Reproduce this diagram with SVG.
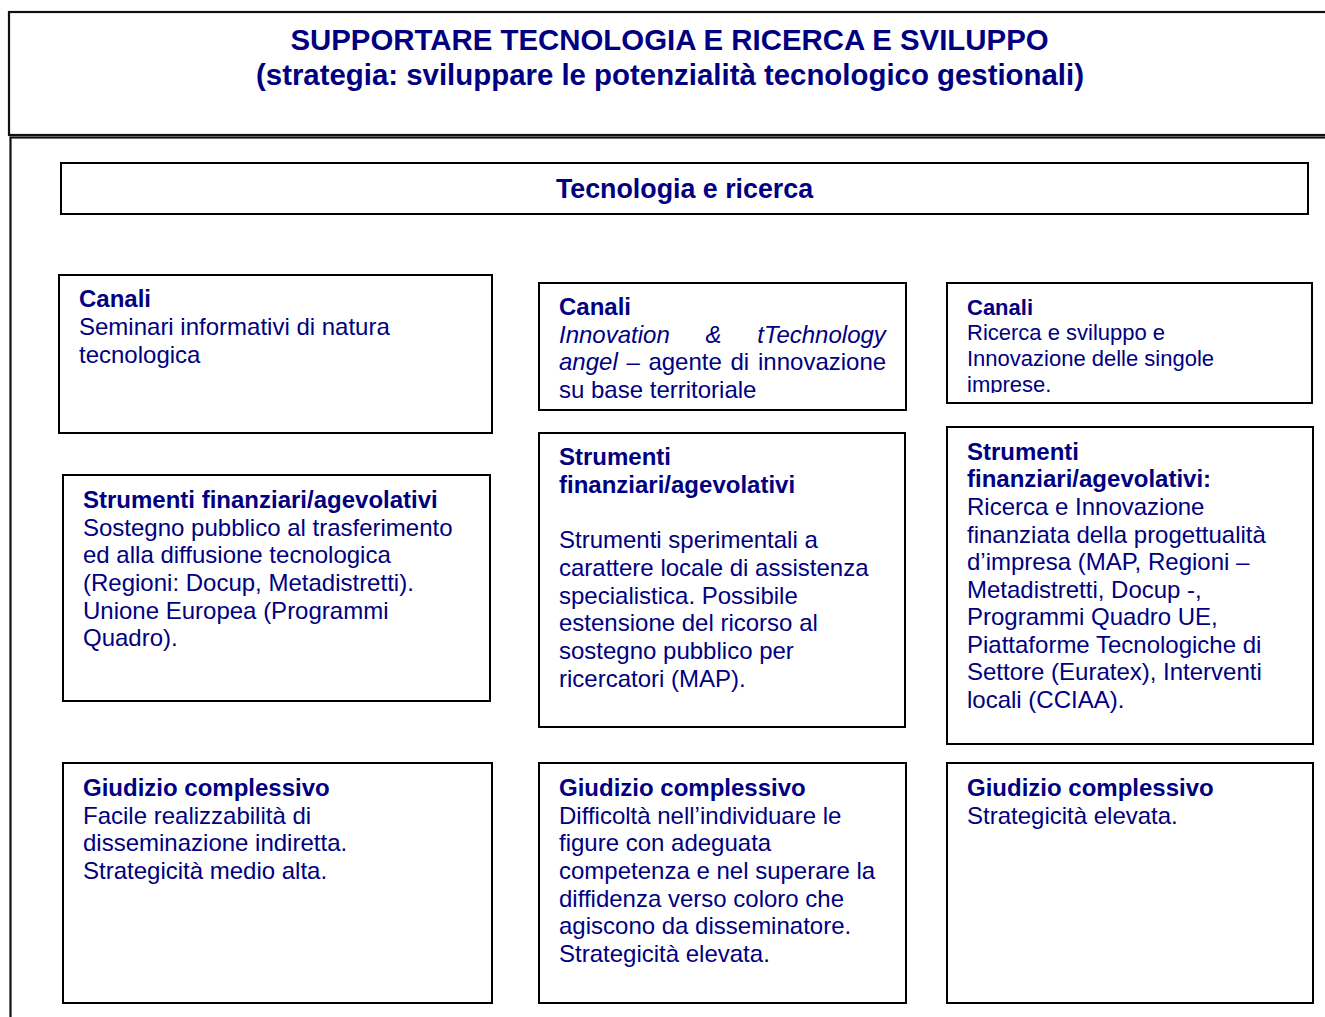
<svg xmlns="http://www.w3.org/2000/svg" width="1325" height="1017" viewBox="0 0 1325 1017">
<style>
.box{fill:#fff;stroke:#000;stroke-width:2}
.frame{fill:#fff;stroke:#111;stroke-width:2.2}
text{font-family:"Liberation Sans",Arial,sans-serif;fill:#000080}
.t{font-size:29.4px;font-weight:bold}
.h2{font-size:26.8px;font-weight:bold}
.b{font-size:24px}
.s{font-size:22px}
.bold{font-weight:bold}
.it{font-style:italic}
</style>
<defs>
<clipPath id="clipRC"><rect x="948" y="284" width="364" height="109"/></clipPath>
</defs>
<rect width="1325" height="1017" fill="#fff"/>

<g id="header">
<rect class="frame" x="9" y="12" width="1330" height="123"/>
<text class="t" x="669.5" y="50" text-anchor="middle">SUPPORTARE TECNOLOGIA E RICERCA E SVILUPPO</text>
<text class="t" x="670" y="85" text-anchor="middle">(strategia: sviluppare le potenzialità tecnologico gestionali)</text>
</g>

<g id="main-frame">
<rect class="frame" x="10.5" y="137.5" width="1330" height="900"/>
</g>

<g id="tecnologia-ricerca">
<rect class="box" x="61" y="163" width="1247" height="51"/>
<text class="h2" x="684.5" y="198" text-anchor="middle">Tecnologia e ricerca</text>
</g>

<g id="canali-1">
<rect class="box" x="59" y="275" width="433" height="158"/>
<text class="b" x="79"><tspan class="bold" x="79" y="307">Canali</tspan><tspan x="79" y="335">Seminari informativi di natura</tspan><tspan x="79" y="362.5">tecnologica</tspan></text>
</g>

<g id="strumenti-1">
<rect class="box" x="63" y="475" width="427" height="226"/>
<text class="b"><tspan class="bold" x="83" y="508">Strumenti finanziari/agevolativi</tspan><tspan x="83" y="535.5">Sostegno pubblico al trasferimento</tspan><tspan x="83" y="563">ed alla diffusione tecnologica</tspan><tspan x="83" y="591">(Regioni: Docup, Metadistretti).</tspan><tspan x="83" y="618.5">Unione Europea (Programmi</tspan><tspan x="83" y="646">Quadro).</tspan></text>
</g>

<g id="giudizio-1">
<rect class="box" x="63" y="763" width="429" height="240"/>
<text class="b"><tspan class="bold" x="83" y="796">Giudizio complessivo</tspan><tspan x="83" y="823.5">Facile realizzabilità di</tspan><tspan x="83" y="851">disseminazione indiretta.</tspan><tspan x="83" y="879">Strategicità medio alta.</tspan></text>
</g>

<g id="canali-2">
<rect class="box" x="539" y="283" width="367" height="127"/>
<text class="b bold" x="559" y="315">Canali</text>
<text class="b it" y="342.5"><tspan x="559">Innovation</tspan><tspan x="705.5">&amp;</tspan><tspan x="757.3">tTechnology</tspan></text>
<text class="b" y="370"><tspan class="it" x="559">angel</tspan><tspan x="626.4">–</tspan><tspan x="648.4">agente</tspan><tspan x="730.5">di</tspan><tspan x="758">innovazione</tspan></text>
<text class="b" x="559" y="397.5">su base territoriale</text>
</g>

<g id="strumenti-2">
<rect class="box" x="539" y="433" width="366" height="294"/>
<text class="b"><tspan class="bold" x="559" y="465">Strumenti</tspan><tspan class="bold" x="559" y="492.5">finanziari/agevolativi</tspan><tspan x="559" y="548">Strumenti sperimentali a</tspan><tspan x="559" y="575.5">carattere locale di assistenza</tspan><tspan x="559" y="603.5">specialistica. Possibile</tspan><tspan x="559" y="631">estensione del ricorso al</tspan><tspan x="559" y="658.5">sostegno pubblico per</tspan><tspan x="559" y="686.5">ricercatori (MAP).</tspan></text>
</g>

<g id="giudizio-2">
<rect class="box" x="539" y="763" width="367" height="240"/>
<text class="b"><tspan class="bold" x="559" y="796">Giudizio complessivo</tspan><tspan x="559" y="823.5">Difficoltà nell’individuare le</tspan><tspan x="559" y="851">figure con adeguata</tspan><tspan x="559" y="879">competenza e nel superare la</tspan><tspan x="559" y="906.5">diffidenza verso coloro che</tspan><tspan x="559" y="934">agiscono da disseminatore.</tspan><tspan x="559" y="962">Strategicità elevata</tspan><tspan fill="#000">.</tspan></text>
</g>

<g id="canali-3">
<rect class="box" x="947" y="283" width="365" height="120"/>
<g clip-path="url(#clipRC)">
<text class="s"><tspan class="bold" x="967" y="314.5">Canali</tspan><tspan x="967" y="340">Ricerca e sviluppo e</tspan><tspan x="967" y="365.5">Innovazione delle singole</tspan><tspan x="967" y="391.5">imprese.</tspan></text>
</g>
</g>

<g id="strumenti-3">
<rect class="box" x="947" y="427" width="366" height="317"/>
<text class="b"><tspan class="bold" x="967" y="460">Strumenti</tspan><tspan class="bold" x="967" y="487">finanziari/agevolativi:</tspan><tspan x="967" y="515">Ricerca e Innovazione</tspan><tspan x="967" y="542.5">finanziata della progettualità</tspan><tspan x="967" y="570">d’impresa (MAP, Regioni –</tspan><tspan x="967" y="597.5">Metadistretti, Docup -,</tspan><tspan x="967" y="625">Programmi Quadro UE,</tspan><tspan x="967" y="652.5">Piattaforme Tecnologiche di</tspan><tspan x="967" y="680">Settore (Euratex), Interventi</tspan><tspan x="967" y="708">locali (CCIAA).</tspan></text>
</g>

<g id="giudizio-3">
<rect class="box" x="947" y="763" width="366" height="240"/>
<text class="b"><tspan class="bold" x="967" y="796">Giudizio complessivo</tspan><tspan x="967" y="823.5">Strategicità elevata.</tspan></text>
</g>

<g id="connectors"></g>
</svg>
